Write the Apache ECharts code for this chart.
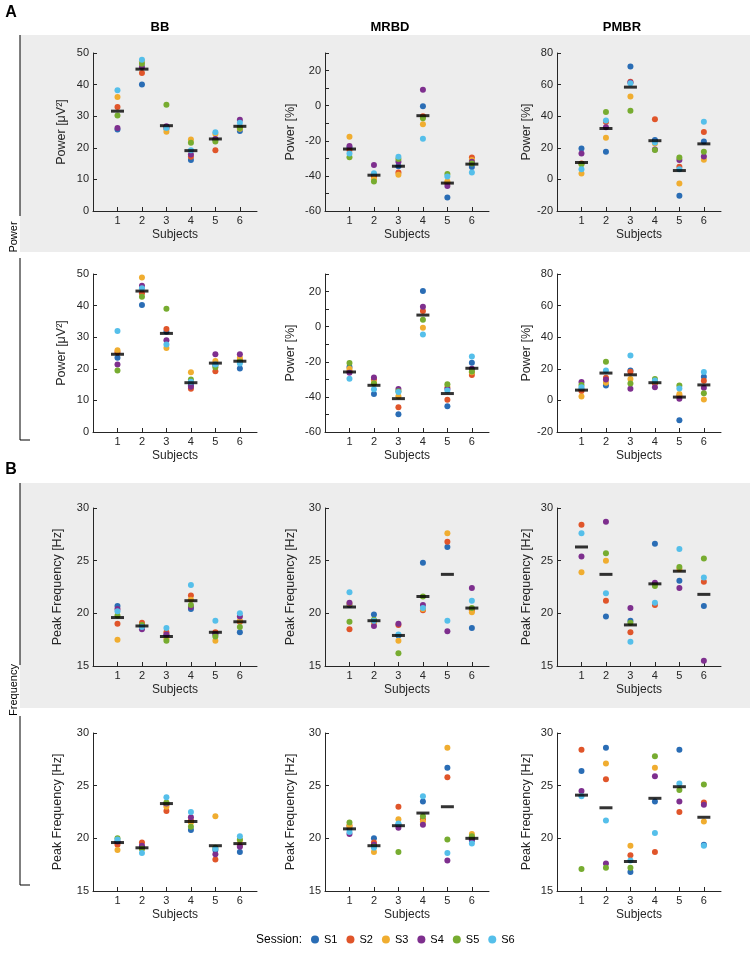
<!DOCTYPE html>
<html>
<head>
<meta charset="utf-8">
<title>Power and peak frequency per subject</title>
<script src="https://cdn.jsdelivr.net/npm/echarts@6/dist/echarts.min.js"></script>
<style>
  html, body { margin: 0; padding: 0; background: #fff; }
  #main { width: 750px; height: 959px; }
</style>
</head>
<body>
<div id="main"></div>
<script>
var subjects = [1, 2, 3, 4, 5, 6];
var sessions = ['S1', 'S2', 'S3', 'S4', 'S5', 'S6'];
var sessionColors = ['#2a6db5', '#e0552a', '#f0ad30', '#7e2f8e', '#77ac30', '#55bfea'];

// one row per subject, columns = S1..S6 (null = no value)
// A, top row
var powBB1 = [[25.8,32.9,36.1,26.3,30.2,38.2],[40.0,43.7,47.4,45.6,46.6,47.9],[26.0,26.5,25.1,26.8,33.6,26.3],[16.1,17.2,22.6,17.9,21.6,19.2],[22.6,19.2,24.4,22.8,22.0,24.9],[25.3,26.6,26.0,28.9,26.3,27.9]];
var powBB1Mean = [31.6, 44.9, 27.0, 19.1, 22.8, 26.8];
var powMRBD1 = [[-23.8,-25.3,-17.7,-23.0,-29.4,-27.2],[-39.4,-40.4,-41.9,-33.8,-43.2,-38.5],[-34.5,-38.1,-39.4,-31.9,-30.4,-29.1],[-0.4,-6.0,-10.6,9.1,-7.2,-18.9],[-52.3,-44.2,-43.2,-45.7,-38.9,-40.4],[-35.0,-29.5,-31.0,-32.0,-33.0,-38.0]];
var powMRBD1Mean = [-24.7, -39.6, -34.5, -5.7, -44.1, -33.3];
var powPMBR1 = [[19.6,10.0,3.7,16.4,9.6,6.4],[17.5,36.4,26.4,33.0,42.7,37.2],[71.5,61.8,52.5,61.3,43.4,60.9],[24.9,38.0,22.8,19.0,18.6,23.4],[-10.3,8.0,-2.6,12.2,13.9,6.5],[24.0,30.0,12.5,14.5,17.5,36.5]];
var powPMBR1Mean = [10.7, 32.2, 58.4, 24.5, 5.6, 22.5];
// A, bottom row
var powBB2 = [[23.5,25.2,25.9,21.4,19.5,32.0],[40.2,43.9,48.9,46.3,42.8,45.5],[31.7,32.6,26.6,29.0,39.0,27.7],[14.8,13.7,18.9,14.3,16.6,15.9],[21.1,19.2,22.5,24.6,20.5,21.4],[20.1,22.7,23.5,24.6,22.2,21.7]];
var powBB2Mean = [24.6, 44.6, 31.2, 15.6, 21.8, 22.4];
var powMRBD2 = [[-23.0,-25.4,-24.0,-26.2,-20.7,-29.6],[-38.3,-30.0,-31.9,-29.0,-32.4,-35.7],[-49.9,-45.9,-39.7,-35.5,-36.8,-37.2],[20.3,8.9,-0.6,11.4,4.0,-4.4],[-45.4,-41.6,-34.3,-35.3,-32.8,-36.4],[-20.5,-27.5,-26.0,-24.0,-25.5,-17.0]];
var powMRBD2Mean = [-25.8, -33.4, -41.0, 6.6, -38.1, -23.7];
var powPMBR2 = [[6.9,5.9,2.5,11.6,9.7,8.4],[9.5,14.3,11.2,13.3,24.4,18.9],[18.9,18.1,13.5,7.4,10.7,28.4],[11.2,10.9,11.8,8.4,13.5,12.6],[-12.5,3.0,4.0,1.0,9.5,7.5],[15.0,12.5,0.5,8.0,4.5,18.0]];
var powPMBR2Mean = [6.5, 17.3, 16.2, 11.2, 2.1, 9.8];
// B, top row
var frqBB1 = [[20.7,19.0,17.5,20.4,19.8,20.2],[18.7,19.1,18.7,18.5,18.9,18.7],[17.9,18.2,17.6,18.0,17.4,18.6],[20.4,21.7,21.3,20.6,20.8,22.7],[18.1,18.2,17.4,18.0,17.8,19.3],[18.2,19.2,19.3,19.7,18.7,20.0]];
var frqBB1Mean = [19.6, 18.8, 17.8, 21.2, 18.2, 19.2];
var frqMRBD1 = [[20.8,18.5,20.9,21.0,19.2,22.0],[19.9,19.2,19.1,18.8,19.4,19.3],[17.9,18.9,17.4,19.0,16.2,18.0],[24.8,20.3,20.4,20.8,21.6,20.5],[26.3,26.8,27.6,18.3,null,19.3],[18.6,20.3,20.1,22.4,20.5,21.2]];
var frqMRBD1Mean = [20.6, 19.3, 17.9, 21.6, 23.7, 20.5];
var frqPMBR1 = [[null,28.4,23.9,25.4,null,27.6],[19.7,21.2,25.0,28.7,25.7,21.9],[19.3,18.2,null,20.5,19.1,17.3],[26.6,20.8,null,22.9,22.6,21.0],[23.1,null,24.2,22.4,24.4,26.1],[20.7,23.0,null,15.5,25.2,23.4]];
var frqPMBR1Mean = [26.3, 23.7, 18.9, 22.8, 24.0, 21.8];
// B, bottom row
var frqBB2 = [[19.6,19.4,18.9,19.7,20.0,19.9],[19.2,19.6,19.0,19.3,19.0,18.6],[23.2,22.6,23.0,23.3,23.4,23.9],[20.8,21.7,21.5,22.0,21.1,22.5],[18.9,18.0,22.1,18.5,19.1,19.0],[18.7,19.3,19.8,19.2,19.9,20.2]];
var frqBB2Mean = [19.6, 19.1, 23.3, 21.6, 19.3, 19.5];
var frqMRBD2 = [[20.9,21.2,21.2,20.4,21.5,20.6],[20.0,19.6,18.7,19.4,19.2,19.1],[21.3,23.0,21.8,21.0,18.7,21.4],[23.5,21.8,21.6,21.3,22.1,24.0],[26.7,25.8,28.6,17.9,19.9,18.6],[19.8,20.1,20.4,19.9,20.2,19.5]];
var frqMRBD2Mean = [20.9, 19.3, 21.2, 22.4, 23.0, 20.0];
var frqPMBR2 = [[26.4,28.4,null,24.5,17.1,24.0],[28.6,25.6,27.1,17.6,17.2,21.7],[16.8,18.4,19.3,null,17.2,17.9],[23.5,18.7,26.7,25.9,27.8,20.5],[28.4,22.5,null,23.5,24.6,25.2],[19.4,23.4,21.6,23.2,25.1,19.3]];
var frqPMBR2Mean = [24.1, 22.9, 17.8, 23.8, 24.9, 22.0];

var panels = [
  [powBB1, powBB1Mean, 'bb'], [powMRBD1, powMRBD1Mean, 'mrbd'], [powPMBR1, powPMBR1Mean, 'pmbr'],
  [powBB2, powBB2Mean, 'bb'], [powMRBD2, powMRBD2Mean, 'mrbd'], [powPMBR2, powPMBR2Mean, 'pmbr'],
  [frqBB1, frqBB1Mean, 'frq'], [frqMRBD1, frqMRBD1Mean, 'frq'], [frqPMBR1, frqPMBR1Mean, 'frq'],
  [frqBB2, frqBB2Mean, 'frq'], [frqMRBD2, frqMRBD2Mean, 'frq'], [frqPMBR2, frqPMBR2Mean, 'frq']
];

var axisSpec = {
  bb:   { min: 0,   max: 50, interval: 10, step: 10, name: 'Power [\u03bcV\u00b2]' },
  mrbd: { min: -60, max: 30, interval: 10, step: 20, name: 'Power [%]' },
  pmbr: { min: -20, max: 80, interval: 20, step: 20, name: 'Power [%]' },
  frq:  { min: 15,  max: 30, interval: 5,  step: 5,  name: 'Peak Frequency [Hz]' }
};

var colLeft = [93, 325, 557];
var rowTop = [53, 274, 508, 733];
var nameGaps = { bb: [25], mrbd: [0, 28], pmbr: [0, 0, 24], frq: [29, 28, 24] };
var font = 'Liberation Sans, Arial, Helvetica, sans-serif';
var ink = '#262626';

var grids = [], xAxes = [], yAxes = [], series = [];

panels.forEach(function (p, i) {
  var vals = p[0], mean = p[1], spec = axisSpec[p[2]];
  var row = Math.floor(i / 3), col = i % 3;
  grids.push({ left: colLeft[col], top: rowTop[row], width: 164, height: 158 });
  xAxes.push({
    gridIndex: i, type: 'value', min: 0, max: 6.7,
    axisLine: { show: true, onZero: false, lineStyle: { color: ink, width: 1 } },
    axisTick: { show: true, inside: true, length: 4, customValues: subjects, lineStyle: { color: ink } },
    axisLabel: { customValues: subjects, margin: 4, color: ink, fontSize: 11, fontFamily: font },
    splitLine: { show: false },
    name: 'Subjects', nameLocation: 'middle', nameGap: 18,
    nameTextStyle: { color: ink, fontSize: 12, fontFamily: font }
  });
  yAxes.push({
    gridIndex: i, type: 'value', min: spec.min, max: spec.max, interval: spec.interval,
    axisLine: { show: true, onZero: false, lineStyle: { color: ink, width: 1 } },
    axisTick: { show: true, inside: true, length: 4, lineStyle: { color: ink } },
    axisLabel: {
      margin: 4, color: ink, fontSize: 11, fontFamily: font,
      formatter: function (v) { return (v - spec.min) % spec.step === 0 && v < spec.max + (spec.step === spec.interval ? 1 : 0) ? String(v) : ''; }
    },
    splitLine: { show: false },
    name: spec.name, nameLocation: 'middle', nameGap: nameGaps[p[2]][col],
    nameTextStyle: { color: ink, fontSize: 12.5, fontFamily: font }
  });
  sessions.forEach(function (s, k) {
    var data = [];
    subjects.forEach(function (sub, j) {
      if (vals[j][k] !== null) data.push([sub, vals[j][k]]);
    });
    series.push({
      name: s, type: 'scatter', xAxisIndex: i, yAxisIndex: i,
      symbol: 'circle', symbolSize: 6, data: data,
      itemStyle: { color: sessionColors[k], opacity: 1 },
      emphasis: { disabled: true }
    });
  });
  series.push({
    name: 'mean', type: 'scatter', xAxisIndex: i, yAxisIndex: i,
    symbol: 'rect', symbolSize: [13, 3], z: 5,
    data: subjects.map(function (sub, j) { return [sub, mean[j]]; }),
    itemStyle: { color: '#000' },
    emphasis: { disabled: true }
  });
});

function label(text, x, y, size, bold, rot) {
  return {
    type: 'text', x: x, y: y, rotation: rot || 0, z: 10,
    style: {
      text: text, fill: '#000', font: (bold ? 'bold ' : '') + size + 'px ' + font,
      textAlign: 'center', textVerticalAlign: 'middle'
    }
  };
}
function seg(x1, y1, x2, y2) {
  return { type: 'line', z: 10, shape: { x1: x1, y1: y1, x2: x2, y2: y2 }, style: { stroke: '#000', lineWidth: 1 } };
}

var graphics = [
  { type: 'rect', z: -10, shape: { x: 20, y: 35, width: 730, height: 217 }, style: { fill: '#ededed' } },
  { type: 'rect', z: -10, shape: { x: 20, y: 483, width: 730, height: 225 }, style: { fill: '#ededed' } },
  label('A', 11, 13, 16, true), label('B', 11, 470, 16, true),
  label('BB', 160, 27, 13, true), label('MRBD', 390, 27, 13, true), label('PMBR', 622, 27, 13, true),
  seg(20, 35, 20, 216), seg(20, 258, 20, 440), seg(20, 440, 30, 440),
  label('Power', 14, 237, 11, false, Math.PI / 2),
  seg(20, 483, 20, 665), seg(20, 716, 20, 885), seg(20, 885, 30, 885),
  label('Frequency', 14, 690, 11, false, Math.PI / 2),
  { type: 'text', x: 302, y: 940, z: 10, style: { text: 'Session:', fill: '#000', font: '12px ' + font, textAlign: 'right', textVerticalAlign: 'middle' } }
];

var chart = echarts.init(document.getElementById('main'));
chart.setOption({
  animation: false,
  backgroundColor: '#fff',
  grid: grids,
  xAxis: xAxes,
  yAxis: yAxes,
  legend: {
    data: sessions, left: 306, top: 929, icon: 'circle',
    itemWidth: 8, itemHeight: 8, itemGap: 9,
    textStyle: { color: '#000', fontSize: 11, fontFamily: font }
  },
  graphic: graphics,
  series: series
});
</script>
</body>
</html>
